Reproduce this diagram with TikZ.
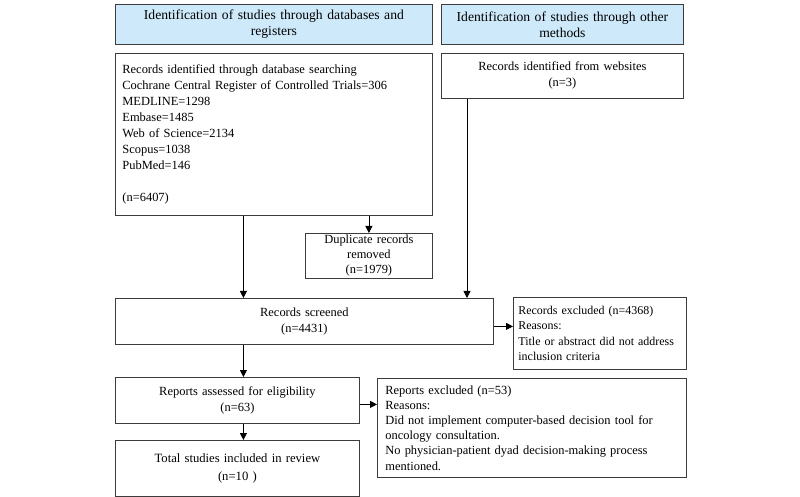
\documentclass[tikz,border=0pt]{standalone}
\usepackage{fontspec}
\setmainfont{Liberation Serif}
\usetikzlibrary{arrows.meta}
\definecolor{boxgray}{RGB}{60,60,60}
\definecolor{hdrblue}{RGB}{205,233,250}
\tikzset{
  hdr/.style={draw=boxgray, fill=hdrblue, line width=0.8bp, anchor=north west, inner sep=0pt, align=center, font=\fontsize{13.7}{16}\selectfont},
  box/.style={draw=boxgray, line width=0.8bp, anchor=north west, inner sep=0pt, align=center, font=\fontsize{12.5}{16}\selectfont},
  lbox/.style={box, align=left},
  flow/.style={-{Triangle[length=7bp,width=7bp]}, line width=0.8bp}
}

\begin{document}
\begin{tikzpicture}[x=1bp,y=-1bp]
  \useasboundingbox (0,0) rectangle (800,497);
  % headers
  \node[hdr, text width=317bp, minimum height=40bp] (hdb) at (115,4) {Identification of studies through databases and\\registers};
  \node[hdr, text width=242bp, minimum height=40bp] (hot) at (441,4) {Identification of studies through other\\methods};
  % identification
  \node[lbox, inner xsep=7bp, text width=303bp, minimum height=162bp] (db) at (115,53)
    {Records identified through database searching\\
     Cochrane Central Register of Controlled Trials=306\\
     MEDLINE=1298\\
     Embase=1485\\
     Web of Science=2134\\
     Scopus=1038\\
     PubMed=146\\[16bp]
     (n=6407)\\[10bp]};
  \node[box, text width=242bp, minimum height=45bp] (web) at (441,53) {Records identified from websites\\(n=3)};
  \node[box, text width=127bp, minimum height=45bp, font=\fontsize{12.5}{15}\selectfont] (dup) at (305,233) {Duplicate records\\removed\\(n=1979)};
  % screening
  \node[box, text width=378bp, minimum height=46bp] (scr) at (115,298) {Records screened\\(n=4431)};
  \node[lbox, inner xsep=5bp, text width=163bp, minimum height=72bp, font=\fontsize{12}{15.3}\selectfont] (excl) at (513,297)
    {Records excluded (n=4368)\\Reasons:\\Title or abstract did not address\\inclusion criteria};
  \node[box, text width=244bp, minimum height=46bp] (rep) at (115,377) {Reports assessed for eligibility\\(n=63)};
  \node[lbox, inner xsep=8bp, text width=293bp, minimum height=99bp, font=\fontsize{12.5}{15.3}\selectfont] (rexcl) at (377,378)
    {Reports excluded (n=53)\\Reasons:\\Did not implement computer-based decision tool for\\oncology consultation.\\No physician-patient dyad decision-making process\\mentioned.};
  % included
  \node[box, text width=244bp, minimum height=56bp, font=\fontsize{12.7}{18}\selectfont] (tot) at (115,440) {Total studies included in review\\(n=10 )};
  % arrows
  \coordinate (webout) at ([xshift=26bp]web.south west);
  \draw[flow] ([xshift=6bp]db.south -| rep.north) -- ([xshift=6bp]rep.north |- scr.north);
  \draw[flow] (db.south -| dup.north) -- (dup.north);
  \draw[flow] (webout) -- (webout |- scr.north);
  \draw[flow] ([yshift=-5bp]scr.east) -- ([yshift=-5bp]scr.east -| excl.west);
  \draw[flow] ([xshift=6bp]scr.south -| rep.north) -- ([xshift=6bp]rep.north);
  \draw[flow] ([yshift=-4bp]rep.east) -- ([yshift=-4bp]rep.east -| rexcl.west);
  \draw[flow] ([xshift=6bp]rep.south) -- ([xshift=6bp]tot.north);
\end{tikzpicture}
\end{document}
